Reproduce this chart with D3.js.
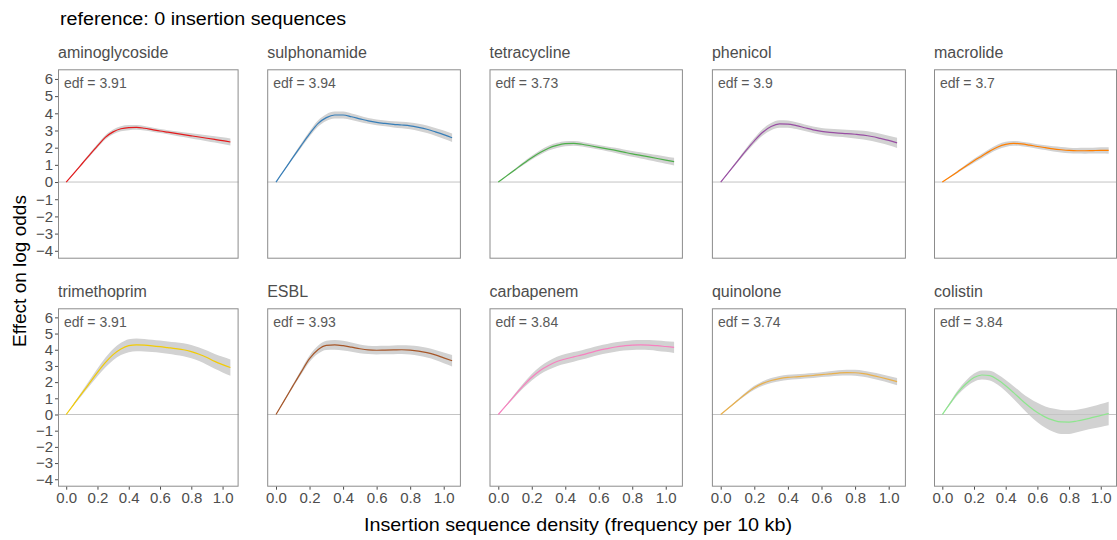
<!DOCTYPE html>
<html>
<head>
<meta charset="utf-8">
<script src="https://cdn.jsdelivr.net/npm/d3@7"></script>
<style>
  html, body { margin: 0; padding: 0; background: #ffffff; }
  svg { display: block; font-family: "Liberation Sans", Arial, sans-serif; }
</style>
</head>
<body>
<svg id="chart" width="1117" height="540"></svg>
<script>
// Smooth-term effect of insertion sequence density, one panel per drug class
const classes = ["aminoglycoside", "sulphonamide", "tetracycline", "phenicol", "macrolide",
                 "trimethoprim", "ESBL", "carbapenem", "quinolone", "colistin"];
const edfs = ["3.91", "3.94", "3.73", "3.9", "3.7", "3.91", "3.93", "3.84", "3.74", "3.84"];
const lineColours = ["#e41a1c", "#377eb8", "#4daf4a", "#984ea3", "#ff7f00",
                     "#f2cb05", "#a65628", "#f781bf", "#e9b04c", "#8ee68e"];

const density = [0, 0.05, 0.1, 0.15, 0.2, 0.25, 0.3, 0.35, 0.4, 0.45, 0.5,
                 0.55, 0.6, 0.65, 0.7, 0.75, 0.8, 0.85, 0.9, 0.95, 1.0, 1.05];

const fitAminoglycoside = [0, 0.52, 1.05, 1.58, 2.1, 2.6, 2.92, 3.1, 3.17, 3.18, 3.13, 3.05, 2.97, 2.9, 2.83, 2.76, 2.69, 2.62, 2.55, 2.48, 2.41, 2.33];
const seAminoglycoside  = [0, 0.03, 0.06, 0.09, 0.11, 0.13, 0.14, 0.15, 0.15, 0.14, 0.13, 0.12, 0.12, 0.12, 0.13, 0.14, 0.15, 0.16, 0.17, 0.18, 0.19, 0.2];
const fitSulphonamide   = [0, 0.71, 1.42, 2.12, 2.8, 3.4, 3.75, 3.9, 3.9, 3.8, 3.68, 3.56, 3.47, 3.41, 3.36, 3.32, 3.27, 3.18, 3.07, 2.92, 2.76, 2.58];
const seSulphonamide    = [0, 0.04, 0.08, 0.12, 0.15, 0.18, 0.2, 0.2, 0.2, 0.19, 0.18, 0.17, 0.17, 0.17, 0.18, 0.19, 0.2, 0.21, 0.22, 0.23, 0.24, 0.25];
const fitTetracycline   = [0, 0.36, 0.72, 1.08, 1.42, 1.72, 1.97, 2.13, 2.23, 2.25, 2.2, 2.11, 2.02, 1.93, 1.84, 1.74, 1.64, 1.55, 1.46, 1.37, 1.28, 1.19];
const seTetracycline    = [0, 0.03, 0.06, 0.09, 0.11, 0.13, 0.14, 0.15, 0.15, 0.14, 0.13, 0.13, 0.13, 0.14, 0.15, 0.16, 0.17, 0.18, 0.19, 0.2, 0.21, 0.22];
const fitPhenicol       = [0, 0.61, 1.22, 1.83, 2.4, 2.9, 3.23, 3.38, 3.37, 3.28, 3.16, 3.04, 2.95, 2.89, 2.85, 2.82, 2.78, 2.73, 2.65, 2.54, 2.42, 2.28];
const sePhenicol        = [0, 0.04, 0.08, 0.12, 0.16, 0.19, 0.21, 0.22, 0.21, 0.2, 0.19, 0.19, 0.2, 0.21, 0.22, 0.23, 0.24, 0.25, 0.26, 0.27, 0.28, 0.3];
const fitMacrolide      = [0, 0.31, 0.62, 0.93, 1.24, 1.52, 1.8, 2.04, 2.19, 2.25, 2.22, 2.15, 2.07, 2.0, 1.93, 1.88, 1.84, 1.82, 1.82, 1.83, 1.84, 1.84];
const seMacrolide       = [0, 0.03, 0.06, 0.09, 0.11, 0.13, 0.14, 0.15, 0.15, 0.14, 0.13, 0.13, 0.13, 0.14, 0.15, 0.16, 0.16, 0.16, 0.17, 0.17, 0.18, 0.19];
const fitTrimethoprim   = [0, 0.65, 1.3, 1.95, 2.6, 3.2, 3.7, 4.05, 4.25, 4.3, 4.28, 4.24, 4.19, 4.13, 4.07, 4.0, 3.88, 3.72, 3.52, 3.28, 3.08, 2.9];
const seTrimethoprim    = [0, 0.06, 0.12, 0.18, 0.24, 0.3, 0.35, 0.38, 0.4, 0.4, 0.39, 0.38, 0.38, 0.38, 0.39, 0.4, 0.41, 0.42, 0.44, 0.46, 0.48, 0.5];
const fitESBL           = [0, 0.87, 1.75, 2.62, 3.45, 4.0, 4.27, 4.3, 4.25, 4.16, 4.06, 3.99, 3.97, 3.98, 3.99, 4.0, 3.98, 3.92, 3.82, 3.68, 3.5, 3.32];
const seESBL            = [0, 0.05, 0.1, 0.15, 0.2, 0.25, 0.28, 0.3, 0.3, 0.29, 0.27, 0.26, 0.26, 0.26, 0.27, 0.27, 0.28, 0.29, 0.3, 0.31, 0.33, 0.35];
const fitCarbapenem     = [0, 0.6, 1.2, 1.78, 2.3, 2.72, 3.03, 3.27, 3.43, 3.56, 3.68, 3.82, 3.96, 4.07, 4.17, 4.24, 4.29, 4.3, 4.29, 4.25, 4.2, 4.15];
const seCarbapenem      = [0, 0.05, 0.1, 0.15, 0.2, 0.24, 0.27, 0.29, 0.3, 0.3, 0.29, 0.28, 0.28, 0.28, 0.29, 0.29, 0.3, 0.3, 0.31, 0.32, 0.33, 0.35];
const fitQuinolone      = [0, 0.43, 0.86, 1.28, 1.65, 1.92, 2.1, 2.22, 2.29, 2.33, 2.37, 2.41, 2.46, 2.51, 2.56, 2.59, 2.58, 2.52, 2.42, 2.3, 2.17, 2.03];
const seQuinolone       = [0, 0.03, 0.06, 0.09, 0.12, 0.14, 0.15, 0.16, 0.16, 0.16, 0.15, 0.15, 0.15, 0.16, 0.17, 0.18, 0.18, 0.19, 0.19, 0.2, 0.21, 0.22];
const fitColistin       = [0, 0.7, 1.38, 1.9, 2.28, 2.44, 2.4, 2.15, 1.78, 1.35, 0.9, 0.48, 0.12, -0.16, -0.35, -0.46, -0.47, -0.4, -0.3, -0.18, -0.06, 0.06];
const seColistin        = [0, 0.08, 0.15, 0.2, 0.25, 0.28, 0.3, 0.32, 0.35, 0.4, 0.45, 0.52, 0.6, 0.66, 0.72, 0.74, 0.73, 0.7, 0.68, 0.69, 0.71, 0.73];

const fits = [fitAminoglycoside, fitSulphonamide, fitTetracycline, fitPhenicol, fitMacrolide,
              fitTrimethoprim, fitESBL, fitCarbapenem, fitQuinolone, fitColistin];
const ses  = [seAminoglycoside, seSulphonamide, seTetracycline, sePhenicol, seMacrolide,
              seTrimethoprim, seESBL, seCarbapenem, seQuinolone, seColistin];

const xTicks = [0, 0.2, 0.4, 0.6, 0.8, 1.0];
const yTicks = [-4, -3, -2, -1, 0, 1, 2, 3, 4, 5, 6];

// Panel grid
const colLeft  = [58, 267.2, 489.5, 711.9, 934];
const colWidth = [180.6, 193.7, 193.4, 194, 183];
const rowTop    = [69.3, 308.3];
const rowHeight = [189.4, 178.4];
const xDomain = [-0.0525, 1.1025];
const yDomain = [-4.46, 6.56];

const svg = d3.select("#chart");

svg.append("text")
  .attr("x", 60).attr("y", 25)
  .attr("font-size", 18).attr("fill", "#000")
  .attr("textLength", 286).attr("lengthAdjust", "spacingAndGlyphs")
  .text("reference: 0 insertion sequences");

const fmtX = d => d3.format(".1f")(d);
const fmtY = d => (d < 0 ? "\u2212" + Math.abs(d) : String(d));

classes.forEach((name, i) => {
  const r = Math.floor(i / 5), c = i % 5;
  const x0 = colLeft[c], y0 = rowTop[r], w = colWidth[c], h = rowHeight[r];
  const x = d3.scaleLinear().domain(xDomain).range([0, w]);
  const y = d3.scaleLinear().domain(yDomain).range([h, 0]);

  // strip title
  svg.append("text")
    .attr("x", x0).attr("y", y0 - 11)
    .attr("font-size", 16).attr("fill", "#4d4d4d")
    .text(name);

  const g = svg.append("g").attr("transform", `translate(${x0},${y0})`);

  const rows = density.map((d, k) => ({ x: d, fit: fits[i][k], se: ses[i][k] }));

  g.append("path")
    .datum(rows)
    .attr("fill", "#d2d2d2")
    .attr("d", d3.area()
      .curve(d3.curveMonotoneX)
      .x(d => x(d.x))
      .y0(d => y(d.fit - d.se))
      .y1(d => y(d.fit + d.se)));

  g.append("line")
    .attr("x1", 0).attr("x2", w)
    .attr("y1", y(0)).attr("y2", y(0))
    .attr("stroke", "#c4c4c4").attr("stroke-width", 1);

  g.append("path")
    .datum(rows)
    .attr("fill", "none")
    .attr("stroke", lineColours[i])
    .attr("stroke-width", 1.2)
    .attr("d", d3.line()
      .curve(d3.curveMonotoneX)
      .x(d => x(d.x))
      .y(d => y(d.fit)));

  g.append("text")
    .attr("x", 6).attr("y", 19)
    .attr("font-size", 14).attr("fill", "#595959")
    .text("edf = " + edfs[i]);

  g.append("rect")
    .attr("x", 0.5).attr("y", 0.5)
    .attr("width", w - 1).attr("height", h - 1)
    .attr("fill", "none").attr("stroke", "#8c8c8c").attr("stroke-width", 1);

  if (c === 0) {
    const ya = g.append("g")
      .call(d3.axisLeft(y).tickValues(yTicks).tickFormat(fmtY).tickSize(3).tickPadding(2));
    ya.select(".domain").remove();
    ya.selectAll("line").attr("stroke", "#4d4d4d");
    ya.selectAll("text").attr("font-size", 15).attr("fill", "#4d4d4d")
      .attr("font-family", "Liberation Sans, Arial, sans-serif");
  }
  if (r === 1) {
    const xa = g.append("g").attr("transform", `translate(0,${h})`)
      .call(d3.axisBottom(x).tickValues(xTicks).tickFormat(fmtX).tickSize(3).tickPadding(3));
    xa.select(".domain").remove();
    xa.selectAll("line").attr("stroke", "#4d4d4d");
    xa.selectAll("text").attr("font-size", 15).attr("fill", "#4d4d4d")
      .attr("font-family", "Liberation Sans, Arial, sans-serif");
  }
});

svg.append("text")
  .attr("x", 578).attr("y", 531)
  .attr("text-anchor", "middle")
  .attr("font-size", 19).attr("fill", "#000")
  .attr("textLength", 428).attr("lengthAdjust", "spacingAndGlyphs")
  .text("Insertion sequence density (frequency per 10 kb)");

svg.append("text")
  .attr("transform", "translate(26,271) rotate(-90)")
  .attr("text-anchor", "middle")
  .attr("font-size", 19).attr("fill", "#000")
  .text("Effect on log odds");
</script>
</body>
</html>
